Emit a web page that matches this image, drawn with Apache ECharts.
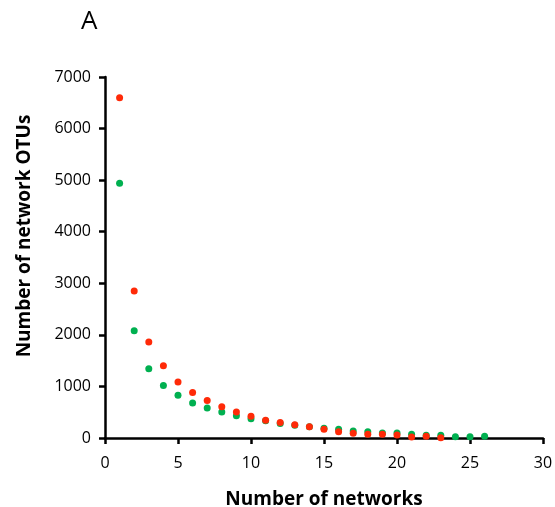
<!DOCTYPE html>
<html><head><meta charset="utf-8">
<script src="https://cdn.jsdelivr.net/npm/echarts@6/dist/echarts.min.js"></script>
<style>html,body{margin:0;padding:0;background:#fff}#c{width:555px;height:507px}</style>
</head><body><div id="c"></div>
<script>
const networks = [1,2,3,4,5,6,7,8,9,10,11,12,13,14,15,16,17,18,19,20,21,22,23,24,25,26];
const redValues = [6600,2850,1860,1400,1085,880,725,607,505,420,345,300,255,219,168,122,91,72,72,58,20,33,5];
const greenValues = [4940,2080,1345,1020,828,680,580,505,433,375,335,280,246,219,188,168,136,122,97,97,72,52,52,25,25,33];
const xTicks = [0,5,10,15,20,25,30];
const yTicks = [0,1000,2000,3000,4000,5000,6000,7000];

const toPairs = v => v.map((y,i)=>[networks[i], y]);
const font = '"Open Sans", sans-serif';
const chart = echarts.init(document.getElementById('c'));
chart.setOption({
  animation:false,
  graphic:[
    {type:'text', left:81, top:9, style:{text:'A', font:'26px '+font, fill:'#000'}},
    {type:'text', x:25, y:236, rotation:Math.PI/2,
      style:{text:'Number of network OTUs', font:'bold 19px '+font, fill:'#000', textAlign:'center', textVerticalAlign:'middle'}}
  ],
  grid:{left:105, right:12, top:77, bottom:69, containLabel:false, outerBoundsMode:'none'},
  xAxis:{type:'value', min:xTicks[0], max:xTicks[xTicks.length-1], interval:5,
    name:'Number of networks', nameLocation:'middle', nameGap:52,
    nameTextStyle:{fontFamily:font, fontWeight:'bold', fontSize:19, color:'#000'},
    axisLine:{lineStyle:{color:'#000', width:2.5}},
    axisTick:{show:true, length:6, lineStyle:{color:'#000', width:2.5}},
    axisLabel:{fontFamily:font, fontSize:16, color:'#000', margin:17},
    splitLine:{show:false}},
  yAxis:{type:'value', min:yTicks[0], max:yTicks[yTicks.length-1], interval:1000,
    axisLine:{show:true, lineStyle:{color:'#000', width:2.5}},
    axisTick:{show:true, length:6, lineStyle:{color:'#000', width:2.5}},
    axisLabel:{fontFamily:font, fontSize:16, color:'#000', margin:14, formatter:v=>String(v)},
    splitLine:{show:false}},
  series:[
    {type:'scatter', data:toPairs(greenValues), symbolSize:7, itemStyle:{color:'#00b050', opacity:1}},
    {type:'scatter', data:toPairs(redValues), symbolSize:7, itemStyle:{color:'#ff2a08', opacity:1}}
  ]
});
</script></body></html>
